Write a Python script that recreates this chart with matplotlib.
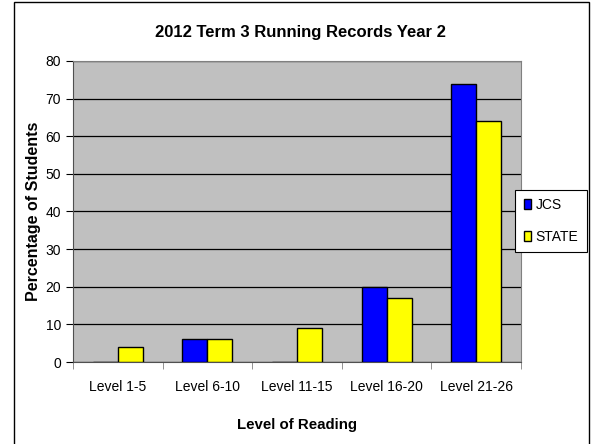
import numpy as np
import matplotlib.pyplot as plt
from matplotlib.patches import Rectangle

plt.rcParams['font.family'] = ['Liberation Sans', 'DejaVu Sans']

levels = ['Level 1-5', 'Level 6-10', 'Level 11-15', 'Level 16-20', 'Level 21-26']
jcs = [0, 6, 0, 20, 74]
state = [4, 6, 9, 17, 64]
yticks = [0, 10, 20, 30, 40, 50, 60, 70, 80]

fig = plt.figure(figsize=(5.92, 4.44), dpi=100)
# outer frame
fig.patches.append(Rectangle((14 / 592, -0.01), (589 - 14) / 592, 1 - 2 / 444 + 0.01,
                             transform=fig.transFigure, fill=False, edgecolor='black', lw=1))

ax = fig.add_axes([73 / 592, 82 / 444, (521 - 73) / 592, (362 - 61) / 444])
ax.set_facecolor('#C0C0C0')

x = np.arange(len(levels))
w = 0.28
ax.bar(x - w / 2, jcs, w, color='#0000FF', edgecolor='black', lw=1, label='JCS', zorder=3)
ax.bar(x + w / 2, state, w, color='#FFFF00', edgecolor='black', lw=1, label='STATE', zorder=3)

ax.set_ylim(0, 80)
ax.set_xlim(-0.5, len(levels) - 0.5)
ax.set_yticks(yticks)
ax.yaxis.grid(True, color='black', lw=0.9, zorder=1)
ax.set_axisbelow(True)
ax.set_xticks(x)
ax.set_xticklabels(levels, fontsize=10)
ax.tick_params(axis='x', length=0, pad=13)
ax.set_xticks(np.arange(len(levels) + 1) - 0.5, minor=True)
ax.tick_params(axis='x', which='minor', length=5, color='#808080', direction='out')
ax.tick_params(axis='y', labelsize=10, length=5, color='black', direction='out')

for s in ['top', 'right']:
    ax.spines[s].set_color('#808080')
for s in ['left', 'bottom']:
    ax.spines[s].set_color('#505050')

ax.set_ylabel('Percentage of Students', fontsize=11.5, fontweight='bold', labelpad=3)
ax.set_xlabel('Level of Reading', fontsize=10.8, fontweight='bold', labelpad=17)
fig.text(300 / 592, 1 - 32 / 444, '2012 Term 3 Running Records Year 2',
         ha='center', va='center', fontsize=12, fontweight='bold')

leg = fig.legend(loc='center', bbox_to_anchor=(551 / 592, 1 - 221 / 444), fontsize=10,
                 fancybox=False, edgecolor='black', framealpha=1, handlelength=0.55,
                 handleheight=0.7, handletextpad=0.3, labelspacing=1.3, borderpad=0.6,
                 borderaxespad=0)
leg.get_frame().set_linewidth(0.8)

fig.savefig('out.png', dpi=100)
